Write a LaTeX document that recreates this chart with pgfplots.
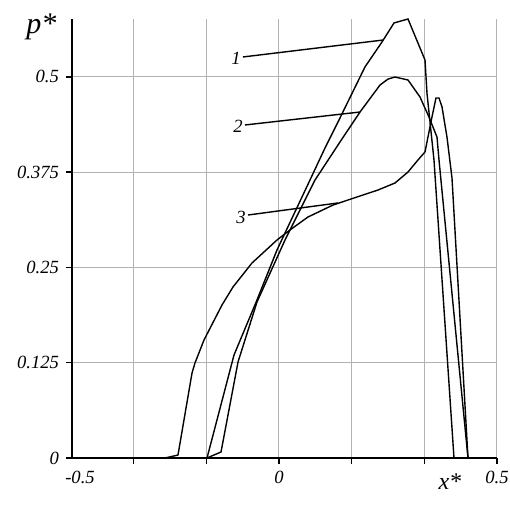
\documentclass[border=0pt]{standalone}
\usepackage{fontspec}
\setmainfont{Liberation Serif}
\usepackage{pgfplots}
\pgfplotsset{compat=1.18}

\begin{document}
\begin{tikzpicture}
\useasboundingbox (-36pt,-26pt) rectangle (219pt,229pt);
\begin{axis}[
    scale only axis,
    width=212.5pt, height=219.5pt,
    xmin=-0.4748, xmax=0.5,
    ymin=0, ymax=0.5758,
    axis x line*=bottom, axis y line*=left,
    axis line style={-, line width=1pt},
    xtick={-0.3333,-0.1667,0,0.1667,0.3333,0.5},
    xticklabels={,,0,,,0.5},
    extra x ticks={-0.4564},
    extra x tick labels={-0.5},
    extra x tick style={grid=none, tick style={draw=none}},
    ytick={0,0.125,0.25,0.375,0.5},
    yticklabels={0,0.125,0.25,0.375,0.5},
    tick align=outside,
    major tick length=3pt,
    tick style={black, line width=0.8pt},
    grid=major,
    grid style={gray!60, line width=0.5pt},
    ticklabel style={font=\fontsize{9.3}{10}\selectfont\itshape},
    /pgf/number format/assume math mode=true,
    clip=false,
]
% curve 1
\addplot[black, line width=0.7pt] coordinates {
(-0.1651,0) (-0.1032,0.1351) (-0.0505,0.2072) (-0.0046,0.2728) (0.0711,0.3646)
(0.1055,0.4066) (0.1399,0.4460) (0.1972,0.5129) (0.2362,0.5456) (0.2638,0.5706)
(0.2959,0.5758) (0.3349,0.5220) (0.3394,0.4787) (0.3555,0.3909) (0.4014,0)
};
% curve 2
\addplot[black, line width=0.7pt] coordinates {
(-0.1651,0) (-0.1330,0.0079) (-0.0940,0.1259) (-0.0505,0.2046) (0.0138,0.2859)
(0.0826,0.3646) (0.1399,0.4145) (0.1858,0.4538) (0.2317,0.4892) (0.2500,0.4970)
(0.2661,0.4997) (0.2959,0.4958) (0.3234,0.4735) (0.3440,0.4473) (0.3624,0.4210)
(0.3670,0.3909) (0.4335,0)
};
% curve 3
\addplot[black, line width=0.7pt] coordinates {
(-0.2615,0) (-0.2317,0.0039) (-0.1995,0.1115) (-0.1927,0.1246) (-0.1720,0.1548)
(-0.1307,0.2007) (-0.1055,0.2243) (-0.0619,0.2558) (-0.0046,0.2859) (0.0252,0.2991)
(0.0665,0.3161) (0.1239,0.3318) (0.1583,0.3384) (0.2271,0.3515) (0.2661,0.3607)
(0.2959,0.3751) (0.3188,0.3909) (0.3349,0.4014) (0.3417,0.4210) (0.3509,0.4473)
(0.3601,0.4722) (0.3670,0.4722) (0.3739,0.4604) (0.3853,0.4210) (0.3968,0.3673)
(0.4335,0)
};
% leaders and labels
\draw[line width=0.7pt] (axis cs:-0.0826,0.5260) -- (axis cs:0.2385,0.5482);
\draw[line width=0.7pt] (axis cs:-0.0780,0.4368) -- (axis cs:0.1858,0.4538);
\draw[line width=0.7pt] (axis cs:-0.0711,0.3187) -- (axis cs:0.1353,0.3345);
\node[font=\fontsize{9.3}{10}\selectfont\itshape, anchor=east, inner sep=1pt] at (axis cs:-0.0826,0.5245) {1};
\node[font=\fontsize{9.3}{10}\selectfont\itshape, anchor=east, inner sep=1pt] at (axis cs:-0.0780,0.4350) {2};
\node[font=\fontsize{9.3}{10}\selectfont\itshape, anchor=east, inner sep=1pt] at (axis cs:-0.0711,0.3160) {3};
\node[font=\fontsize{15}{16}\selectfont\itshape] at (axis cs:-0.545,0.566) {p*};
\node[font=\fontsize{12}{13}\selectfont\itshape] at (axis cs:0.392,-0.0315) {x*};
\end{axis}
\end{tikzpicture}
\end{document}
